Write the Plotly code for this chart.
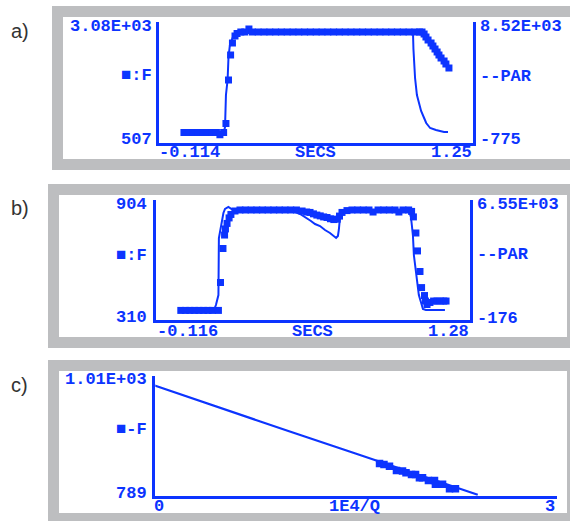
import plotly.graph_objects as go

W, H = 570, 521
BLUE = "#0c34ff"
GRAY = "#bdbec0"
MONO = "Liberation Mono"

# ---------------- panel a data ----------------
ta_F = [0.00, 0.02, 0.04, 0.06, 0.08, 0.10, 0.12, 0.14, 0.155, 0.171,
        0.181, 0.192, 0.201, 0.209, 0.220, 0.229, 0.245, 0.262, 0.280, 0.295,
        0.320, 0.345, 0.370, 0.395, 0.420, 0.445, 0.470, 0.495, 0.520, 0.545,
        0.570, 0.595, 0.620, 0.645, 0.670, 0.695, 0.720, 0.745, 0.770, 0.795,
        0.820, 0.845, 0.870, 0.895, 0.920, 0.945, 0.970, 0.995, 1.015,
        1.026, 1.035, 1.043, 1.052, 1.065, 1.073, 1.082, 1.091, 1.099, 1.108,
        1.121, 1.129, 1.142]
Fa = [740, 740, 740, 740, 740, 740, 740, 740, 690, 740,
      930, 1852, 2381, 2635, 2784, 2837, 2868, 2868, 2932, 2868,
      2868, 2868, 2868, 2868, 2868, 2868, 2868, 2868, 2868, 2868,
      2868, 2868, 2868, 2868, 2868, 2868, 2868, 2868, 2868, 2868,
      2868, 2868, 2868, 2868, 2868, 2868, 2868, 2868, 2868,
      2868, 2826, 2763, 2699, 2636, 2572, 2509, 2445, 2381, 2318,
      2254, 2191, 2106]
ta_P = [0.00, 0.172, 0.177, 0.181, 0.188, 0.192, 0.198, 0.211, 0.233, 0.987,
        0.989, 0.996, 1.004, 1.013, 1.022, 1.035, 1.044, 1.061, 1.086, 1.121, 1.138]
Pa = [105, 105, 487, 2935, 4083, 5842, 6760, 7372, 7678, 7755,
      6454, 4236, 2935, 2323, 1711, 1176, 793, 411, 258, 105, 105]

# ---------------- panel b data ----------------
tb_F = [0.00, 0.02, 0.04, 0.06, 0.08, 0.10, 0.12, 0.14, 0.166,
        0.175, 0.186, 0.193, 0.197, 0.204, 0.213, 0.221, 0.239, 0.261,
        0.285, 0.310, 0.335, 0.360, 0.385, 0.410, 0.435, 0.460, 0.485, 0.510,
        0.535, 0.555, 0.570, 0.585, 0.600, 0.615, 0.630, 0.645, 0.660, 0.675,
        0.690, 0.700, 0.711, 0.733, 0.755, 0.780, 0.805, 0.830, 0.848, 0.870,
        0.895, 0.920, 0.945, 0.962, 0.980, 1.005,
        1.018, 1.026, 1.037, 1.044, 1.055, 1.062, 1.075, 1.079, 1.086, 1.099,
        1.115, 1.130, 1.145, 1.160, 1.170]
Fb = [362, 362, 362, 362, 362, 362, 362, 362, 362,
      499, 666, 732, 762, 789, 816, 833, 850, 855,
      855, 855, 855, 855, 855, 855, 855, 855, 855, 855,
      850, 845, 843, 836, 830, 826, 821, 818, 812, 808,
      810, 825, 843, 852, 855, 855, 855, 855, 845, 855,
      855, 855, 855, 845, 855, 855,
      848, 821, 742, 654, 553, 474, 435, 408, 391, 401,
      408, 408, 408, 408, 408]
tb_P = [0.00, 0.146, 0.155, 0.166, 0.168, 0.182, 0.188, 0.195, 0.210, 0.230,
        0.482, 0.526, 0.548, 0.574, 0.592, 0.614, 0.636, 0.658, 0.685, 0.693,
        0.697, 0.702, 0.711, 0.724, 1.006, 1.015, 1.019, 1.024, 1.028, 1.037,
        1.044, 1.050, 1.059, 1.068, 1.081, 1.165]
Pb = [435, 435, 713, 1269, 4438, 5327, 5828, 6050, 6161, 5994,
      5994, 5772, 5605, 5383, 5216, 5105, 4883, 4716, 4438, 4549,
      4883, 5550, 5883, 5994, 5994, 5605, 5161, 4549, 3493, 2659,
      1825, 1269, 880, 491, 435, 435]

# ---------------- panel c data ----------------
xc_line = [0.0, 0.5, 1.0, 1.5, 2.0, 2.41]
Fc_line = [993, 951, 910, 869, 828, 794]
xc_pts = [1.679, 1.712, 1.753, 1.805, 1.850, 1.876, 1.917, 1.947, 1.976, 1.999,
          2.043, 2.088, 2.095, 2.148, 2.200, 2.244]
Fc_pts = [851, 849, 846, 838, 837, 834, 831, 831, 825, 825,
          820, 820, 813, 813, 805, 805]

# ---------------- axis ranges / tick labels ----------------
a_x = [-0.114, 1.25]; a_F = [507, 3080]; a_P = [-775, 8520]
b_x = [-0.116, 1.28]; b_F = [310, 904]; b_P = [-176, 6550]
c_x = [0, 3]; c_F = [789, 1010]

a_left = ["3.08E+03", "■:F", "507"]
a_right = ["8.52E+03", "--PAR", "-775"]
a_bottom = ["-0.114", "SECS", "1.25"]
b_left = ["904", "■:F", "310"]
b_right = ["6.55E+03", "--PAR", "-176"]
b_bottom = ["-0.116", "SECS", "1.28"]
c_left = ["1.01E+03", "■-F", "789"]
c_bottom = ["0", "1E4/Q", "3"]
panel_tags = ["a)", "b)", "c)"]


def fx(p):
    return p / W


def fy(p):
    return 1 - p / H


def inset(rng, p0, p1, d0, d1):
    """Range seen by a domain whose edges sit d0/d1 px inside the labelled span p0..p1."""
    k = (rng[1] - rng[0]) / (p1 - p0)
    return [rng[0] + d0 * k, rng[1] - d1 * k]


fig = go.Figure()
mk = dict(symbol="square", size=7, color=BLUE, line=dict(width=0))
fig.add_trace(go.Scatter(x=ta_F, y=Fa, mode="markers", marker=mk, xaxis="x", yaxis="y"))
fig.add_trace(go.Scatter(x=ta_P, y=Pa, mode="lines", line=dict(color=BLUE, width=2), xaxis="x", yaxis="y2"))
fig.add_trace(go.Scatter(x=tb_F, y=Fb, mode="markers", marker=mk, xaxis="x2", yaxis="y3"))
fig.add_trace(go.Scatter(x=tb_P, y=Pb, mode="lines", line=dict(color=BLUE, width=2), xaxis="x2", yaxis="y4"))
fig.add_trace(go.Scatter(x=xc_line, y=Fc_line, mode="lines", line=dict(color=BLUE, width=2.2), xaxis="x3", yaxis="y5"))
fig.add_trace(go.Scatter(x=xc_pts, y=Fc_pts, mode="markers", marker=dict(symbol="square", size=7.5, color=BLUE, line=dict(width=0)), xaxis="x3", yaxis="y5"))

base = dict(showline=True, linecolor=BLUE, linewidth=3, showticklabels=False, ticks="",
            showgrid=False, zeroline=False, fixedrange=True)

fig.update_layout(
    xaxis=dict(base, domain=[159 / W, 473.3 / W], range=inset(a_x, 157.5, 474, 1.5, 0.7), anchor="y"),
    yaxis=dict(base, domain=[fy(143), fy(22)], range=inset(a_F, 0, 121.5, 0.5, 0), anchor="x"),
    yaxis2=dict(base, range=inset(a_P, 0, 121.5, 0.5, 0), overlaying="y", side="right", anchor="x"),
    xaxis2=dict(base, domain=[156 / W, 470 / W], range=inset(b_x, 154.5, 471, 1.5, 1), anchor="y3"),
    yaxis3=dict(base, domain=[fy(320), fy(200)], range=inset(b_F, 0, 121, 1, 0), anchor="x2"),
    yaxis4=dict(base, range=inset(b_P, 0, 121, 1, 0), overlaying="y3", side="right", anchor="x2"),
    xaxis3=dict(base, domain=[155.3 / W, 557 / W], range=inset(c_x, 154, 557, 1.3, 0), anchor="y5"),
    yaxis5=dict(base, domain=[fy(496), fy(376)], range=inset(c_F, 0, 121.5, 1.5, 0), anchor="x3"),
)

shapes = []
frames = [((52, 6, 590, 170), (63, 17, 590, 159)),
          ((48, 184, 570, 348), (59, 195, 567, 337)),
          ((48, 360, 570, 540), (59, 371, 567, 513))]
for outer, inner in frames:
    for (x0, y0, x1, y1), col in ((outer, GRAY), (inner, "white")):
        shapes.append(dict(type="rect", xref="paper", yref="paper", x0=fx(x0), x1=fx(x1),
                           y0=fy(y1), y1=fy(y0), fillcolor=col, line=dict(width=0), layer="below"))

ann = []


def txt(t, x, y, anchor):
    ann.append(dict(text=t, x=fx(x), y=fy(y), xref="paper", yref="paper", xanchor=anchor,
                    yanchor="middle", showarrow=False,
                    font=dict(family=MONO, size=17, color=BLUE, weight="bold")))


# panel a
for t, y in zip(a_left, [26, 75, 139]):
    txt(t, 153.5, y, "right")
for t, y in zip(a_right, [26, 76.5, 139]):
    txt(t, 478, y, "left")
txt(a_bottom[0], 157, 152.5, "left")
txt(a_bottom[1], 315, 152.5, "center")
txt(a_bottom[2], 474, 152.5, "right")
# panel b
for t, y in zip(b_left, [204.5, 255, 317]):
    txt(t, 149, y, "right")
for t, y in zip(b_right, [204.5, 254, 318]):
    txt(t, 475, y, "left")
txt(b_bottom[0], 155, 331.5, "left")
txt(b_bottom[1], 312, 331, "center")
txt(b_bottom[2], 471, 331, "right")
# panel c
for t, y in zip(c_left, [379, 429.5, 493]):
    txt(t, 149, y, "right")
txt(c_bottom[0], 152, 506.5, "left")
txt(c_bottom[1], 354.5, 506.5, "center")
txt(c_bottom[2], 557, 506.5, "right")

for t, y in zip(panel_tags, [31, 208, 385]):
    ann.append(dict(text=t, x=fx(9), y=fy(y), xref="paper", yref="paper", xanchor="left",
                    yanchor="middle", showarrow=False,
                    font=dict(family="Liberation Sans", size=20, color="#333333")))

fig.update_layout(
    width=W, height=H, margin=dict(l=0, r=0, t=0, b=0),
    paper_bgcolor="white", plot_bgcolor="rgba(0,0,0,0)",
    showlegend=False, shapes=shapes, annotations=ann,
)

fig.write_html("out.html", config={"displayModeBar": False},
               post_script="document.body.style.margin='0';document.body.style.overflow='hidden';")
